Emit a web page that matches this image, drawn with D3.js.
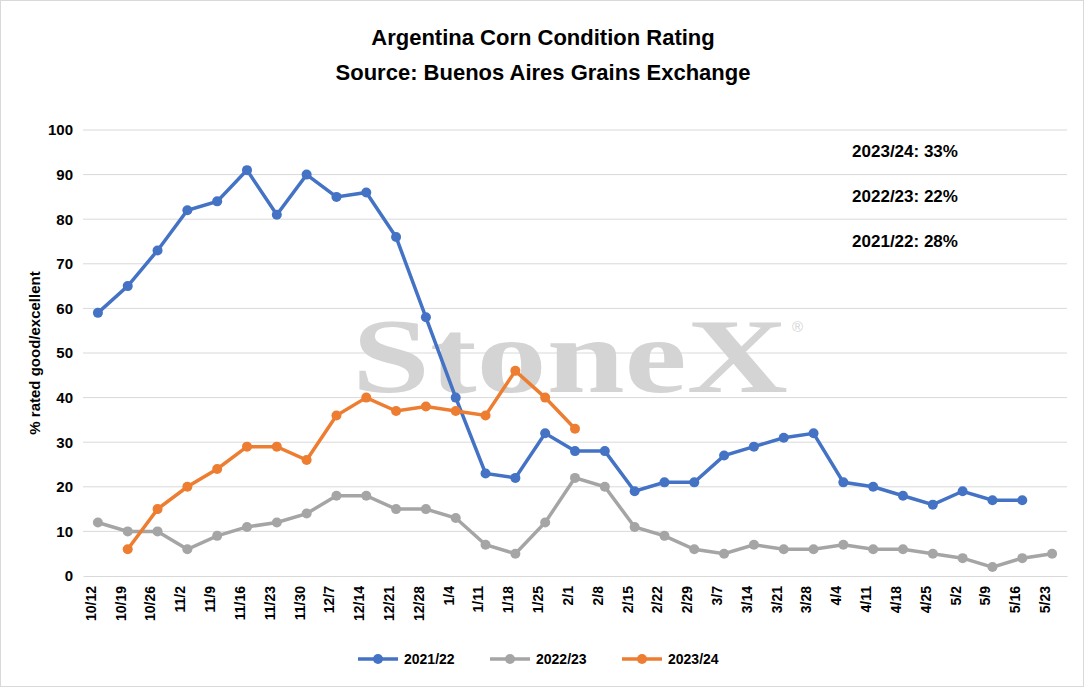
<!DOCTYPE html>
<html><head><meta charset="utf-8">
<script src="https://cdn.jsdelivr.net/npm/d3@7"></script>
<style>body{margin:0;background:#fff}text{font-family:"Liberation Sans",Arial,sans-serif}</style>
</head><body>
<svg id="chart" width="1084" height="687"></svg>
<script>
// data
var weeks = ["10/12","10/19","10/26","11/2","11/9","11/16","11/23","11/30","12/7","12/14","12/21","12/28","1/4","1/11","1/18","1/25","2/1","2/8","2/15","2/22","2/29","3/7","3/14","3/21","3/28","4/4","4/11","4/18","4/25","5/2","5/9","5/16","5/23"];
var s2122 = [59,65,73,82,84,91,81,90,85,86,76,58,40,23,22,32,28,28,19,21,21,27,29,31,32,21,20,18,16,19,17,17,null];
var s2223 = [12,10,10,6,9,11,12,14,18,18,15,15,13,7,5,12,22,20,11,9,6,5,7,6,6,7,6,6,5,4,2,4,5];
var s2324 = [null,6,15,20,24,29,29,26,36,40,37,38,37,36,46,40,33];
var yTicks = [0,10,20,30,40,50,60,70,80,90,100];
var notes = ["2023/24: 33%","2022/23: 22%","2021/22: 28%"];

var series = [
  {name:"2021/22", values:s2122, color:"#4472c4"},
  {name:"2022/23", values:s2223, color:"#a5a5a5"},
  {name:"2023/24", values:s2324, color:"#ed7d31"}
];

var svg = d3.select("#chart");
svg.append("rect").attr("x",0.5).attr("y",0.5).attr("width",1083).attr("height",686)
  .attr("fill","#fff").attr("stroke","#d9d9d9");

var x = d3.scalePoint().domain(weeks).range([83,1067]).padding(0.5);
var y = d3.scaleLinear().domain([0,100]).range([576,130]);

// grid
svg.append("g").selectAll("line").data(yTicks.slice(1)).enter().append("line")
  .attr("x1",83).attr("x2",1067).attr("y1",function(d){return y(d);}).attr("y2",function(d){return y(d);})
  .attr("stroke","#d9d9d9");

// watermark
svg.append("text").attr("x",352).attr("y",392)
  .attr("textLength",436).attr("lengthAdjust","spacingAndGlyphs")
  .style("font-family","'Liberation Serif',serif").style("font-size","106px").style("font-weight","bold")
  .attr("fill","#d4d4d4").text("StoneX");
svg.append("text").attr("x",792).attr("y",332).style("font-size","15px").attr("fill","#d4d4d4").text("®");

// axes
var ya = svg.append("g").attr("transform","translate(83,0)")
  .call(d3.axisLeft(y).tickValues(yTicks).tickSize(0).tickPadding(10));
ya.select(".domain").remove();
ya.selectAll("text").style("font-size","15px").style("font-weight","bold").attr("fill","#000");

var xa = svg.append("g").attr("transform","translate(0,576)")
  .call(d3.axisBottom(x).tickSize(0));
xa.select(".domain").attr("stroke","#d9d9d9");
xa.selectAll("text").style("font-size","14px").style("font-weight","bold").attr("fill","#000")
  .attr("text-anchor","end").attr("transform","rotate(-90)").attr("dx","-10").attr("dy","-0.4em");
xa.selectAll("line").remove();

svg.append("text").attr("transform","translate(40,353) rotate(-90)").attr("text-anchor","middle")
  .style("font-size","15px").style("font-weight","bold").text("% rated good/excellent");

// title
svg.append("text").attr("x",543).attr("y",45).attr("text-anchor","middle").style("font-size","22px").style("font-weight","bold").text("Argentina Corn Condition Rating");
svg.append("text").attr("x",543).attr("y",80).attr("text-anchor","middle").style("font-size","22px").style("font-weight","bold").text("Source: Buenos Aires Grains Exchange");

// lines
var line = d3.line().defined(function(d){return d!=null;})
  .x(function(d,i){return x(weeks[i]);}).y(function(d){return y(d);});
series.forEach(function(s){
  var g = svg.append("g");
  g.append("path").datum(s.values).attr("d",line).attr("fill","none").attr("stroke",s.color).attr("stroke-width",3.5);
  g.selectAll("circle").data(s.values.map(function(v,i){return {v:v,i:i};}).filter(function(d){return d.v!=null;}))
    .enter().append("circle").attr("cx",function(d){return x(weeks[d.i]);}).attr("cy",function(d){return y(d.v);})
    .attr("r",5).attr("fill",s.color);
});

// notes
svg.selectAll(".note").data(notes).enter().append("text")
  .attr("x",905).attr("y",function(d,i){return 157+i*45;}).attr("text-anchor","middle")
  .style("font-size","17px").style("font-weight","bold").text(function(d){return d;});

// legend
var lg = svg.append("g").selectAll("g").data(series).enter().append("g")
  .attr("transform",function(d,i){return "translate("+(358+i*132)+",659)";});
lg.append("line").attr("x1",0).attr("x2",40).attr("stroke",function(d){return d.color;}).attr("stroke-width",3.5);
lg.append("circle").attr("cx",20).attr("r",5).attr("fill",function(d){return d.color;});
lg.append("text").attr("x",46).attr("dy","0.35em").style("font-size","14px").style("font-weight","bold").text(function(d){return d.name;});
</script>
</body></html>
